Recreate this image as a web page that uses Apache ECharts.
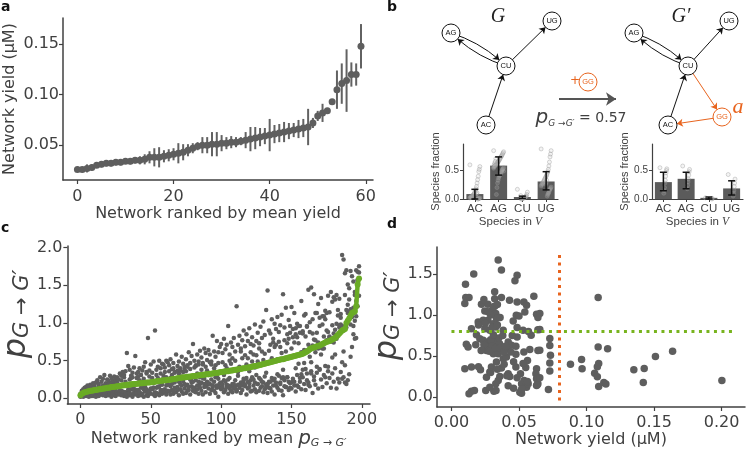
<!DOCTYPE html>
<html><head><meta charset="utf-8">
<script src="https://cdn.jsdelivr.net/npm/echarts@6/dist/echarts.min.js"></script>
<style>html,body{margin:0;padding:0;background:#fff}#c{width:750px;height:450px}</style>
</head><body><div id="c"></div>
<script>
// ---------- Panel a: network yield ranked ----------
const aYield = [0.026,0.026,0.027,0.028,0.030,0.031,0.032,0.032,0.033,0.033,0.034,0.034,0.035,0.035,0.036,
0.038,0.038,0.038,0.039,0.040,0.041,0.042,0.043,0.045,0.047,0.049,0.050,0.050,0.051,0.051,
0.052,0.052,0.053,0.053,0.054,0.055,0.056,0.057,0.058,0.059,0.060,0.061,0.062,0.063,0.064,
0.065,0.066,0.067,0.068,0.072,0.079,0.082,0.084,0.093,0.105,0.111,0.114,0.120,0.120,0.148];
const aErr = [0.002,0.002,0.004,0.003,0.002,0.003,0.003,0.003,0.003,0.003,
0.002,0.003,0.003,0.004,0.005,0.006,0.009,0.010,0.006,0.006,
0.006,0.010,0.008,0.006,0.005,0.004,0.008,0.008,0.012,0.012,
0.008,0.006,0.006,0.005,0.004,0.008,0.012,0.011,0.009,0.008,
0.016,0.009,0.009,0.010,0.008,0.007,0.009,0.009,0.018,0.005,
0.005,0.009,0.002,0.002,0.019,0.020,0.031,0.012,0.011,0.022];
const aXTicks = [0,20,40,60];
const aYTicks = [0.05,0.10,0.15];

// ---------- Panel c: p per network ----------
const cMean = [0.04,0.06,0.07,0.08,0.085,0.09,0.095,0.10,0.10,0.105,
0.11,0.11,0.115,0.12,0.12,0.125,0.13,0.13,0.135,0.14,
0.14,0.145,0.15,0.15,0.155,0.155,0.16,0.16,0.165,0.17,
0.17,0.175,0.175,0.18,0.18,0.185,0.185,0.19,0.19,0.19,
0.195,0.195,0.20,0.20,0.20,0.205,0.205,0.21,0.21,0.21,
0.215,0.215,0.22,0.22,0.225,0.225,0.23,0.23,0.235,0.235,
0.24,0.24,0.245,0.245,0.25,0.25,0.255,0.26,0.26,0.265,
0.27,0.27,0.275,0.275,0.28,0.28,0.285,0.285,0.29,0.29,
0.295,0.295,0.30,0.30,0.305,0.305,0.31,0.31,0.315,0.315,
0.32,0.32,0.325,0.325,0.33,0.335,0.335,0.34,0.34,0.345,
0.35,0.35,0.355,0.355,0.36,0.36,0.365,0.37,0.37,0.375,
0.38,0.38,0.385,0.39,0.39,0.395,0.40,0.40,0.405,0.41,
0.41,0.415,0.42,0.425,0.43,0.43,0.435,0.44,0.445,0.45,
0.455,0.46,0.465,0.47,0.475,0.48,0.485,0.49,0.495,0.50,
0.505,0.51,0.515,0.52,0.52,0.525,0.53,0.535,0.54,0.545,
0.55,0.555,0.56,0.565,0.57,0.575,0.58,0.585,0.59,0.60,
0.61,0.62,0.635,0.65,0.66,0.67,0.675,0.68,0.69,0.695,
0.70,0.71,0.72,0.73,0.74,0.75,0.755,0.76,0.77,0.78,
0.79,0.80,0.82,0.84,0.86,0.88,0.90,0.91,0.92,1.00,
1.03,1.06,1.10,1.13,1.14,1.15,1.22,1.51,1.59];
const cReplicates = [
[0.02,0.05,0.03,0.06],[0.03,0.10,0.04,0.07],[0.02,0.12,0.05,0.09],[0.04,0.14,0.06,0.08],[0.03,0.15,0.10,0.06],
[0.05,0.17,0.08,0.09],[0.02,0.13,0.16,0.07],[0.04,0.18,0.11,0.07],[0.06,0.15,0.03,0.16],[0.03,0.20,0.12,0.07],
[0.05,0.18,0.14,0.07],[0.02,0.21,0.10,0.11],[0.06,0.24,0.08,0.09],[0.03,0.19,0.16,0.14],[0.05,0.28,0.09,0.06],
[0.07,0.22,0.13,0.08],[0.04,0.26,0.17,0.10],[0.09,0.31,0.05,0.07],[0.03,0.20,0.18,0.13],[0.06,0.25,0.15,0.10],
[0.04,0.23,0.19,0.10],[0.08,0.30,0.05,0.15],[0.02,0.27,0.21,0.10],[0.06,0.24,0.12,0.18],[0.09,0.29,0.04,0.20],
[0.03,0.26,0.22,0.11],[0.07,0.21,0.28,0.08],[0.05,0.25,0.18,0.16],[0.10,0.33,0.06,0.17],[0.04,0.30,0.24,0.10],
[0.06,0.35,0.18,0.09],[0.03,0.28,0.31,0.08],[0.08,0.22,0.36,0.04],[0.05,0.60,0.02,0.05],[0.10,0.43,0.07,0.12],
[0.04,0.38,0.25,0.07],[0.12,0.30,0.05,0.27],[0.02,0.34,0.28,0.12],[0.07,0.41,0.16,0.12],[0.05,0.56,0.09,0.06],
[0.11,0.27,0.33,0.07],[0.03,0.35,0.29,0.11],[0.08,0.24,0.40,0.08],[0.14,0.31,0.04,0.31],[0.06,0.37,0.22,0.15],
[0.02,0.42,0.26,0.12],[0.09,0.48,0.10,0.15],[0.04,0.33,0.35,0.12],[0.05,0.80,0.03,0.08],[0.10,0.29,0.37,0.08],
[0.06,0.45,0.22,0.13],[0.13,0.34,0.27,0.12],[0.49,0.05,0.20,0.14],[0.90,0.03,0.05,0.08],[0.07,0.38,0.31,0.14],
[0.15,0.27,0.42,0.06],[0.04,0.50,0.24,0.16],[0.11,0.33,0.40,0.08],[0.18,0.46,0.06,0.25],[0.08,0.45,0.30,0.11],
[0.12,0.41,0.35,0.08],[0.05,0.50,0.28,0.17],[0.20,0.48,0.10,0.18],[0.09,0.36,0.44,0.09],[0.16,0.52,0.05,0.27],
[0.11,0.39,0.31,0.19],[0.06,0.47,0.40,0.09],[0.21,0.35,0.14,0.34],[0.08,0.58,0.25,0.13],[0.15,0.43,0.37,0.11],
[0.04,0.49,0.33,0.22],[0.19,0.40,0.12,0.37],[0.09,0.55,0.29,0.17],[0.23,0.46,0.06,0.35],[0.13,0.38,0.42,0.19],
[0.07,0.52,0.36,0.17],[0.18,0.44,0.10,0.42],[0.11,0.61,0.27,0.15],[0.05,0.47,0.39,0.25],[0.21,0.56,0.16,0.23],
[0.14,0.72,0.10,0.22],[0.09,0.50,0.41,0.14],[0.24,0.44,0.08,0.43],[0.12,0.58,0.33,0.17],[0.06,0.49,0.45,0.22],
[0.19,0.63,0.14,0.28],[0.10,0.54,0.38,0.21],[0.27,0.47,0.05,0.45],[0.15,0.66,0.26,0.19],[0.08,0.60,0.42,0.16],
[0.22,0.51,0.18,0.37],[0.13,0.64,0.31,0.20],[0.06,0.58,0.48,0.19],[0.25,0.49,0.11,0.45],[0.17,0.83,0.15,0.17],
[0.10,0.62,0.40,0.22],[0.28,0.55,0.07,0.44],[0.14,0.76,0.29,0.17],[0.02,0.61,0.47,0.26],[0.20,0.68,0.15,0.34],
[0.12,0.72,0.35,0.21],[0.18,0.60,0.48,0.14],[0.08,0.79,0.31,0.24],[0.22,0.65,0.11,0.44],[0.15,0.71,0.40,0.18],
[0.06,0.96,0.25,0.17],[0.27,0.58,0.13,0.50],[0.10,0.74,0.46,0.16],[0.19,0.68,0.08,0.53],[0.13,0.80,0.38,0.19],
[0.24,0.62,0.16,0.50],[0.09,1.22,0.11,0.10],[0.30,0.71,0.18,0.35],[0.14,0.83,0.42,0.17],[0.21,0.66,0.07,0.62],
[0.11,0.77,0.53,0.17],[0.26,0.90,0.20,0.24],[0.16,0.69,0.57,0.18],[0.05,0.85,0.45,0.27],[0.22,0.76,0.13,0.53],
[0.15,0.93,0.36,0.20],[0.09,0.72,0.61,0.24],[0.28,0.81,0.10,0.49],[0.17,0.70,0.58,0.25],[0.12,0.98,0.41,0.21],
[0.31,0.76,0.08,0.57],[0.19,0.87,0.49,0.19],[0.10,0.73,0.66,0.27],[0.25,0.95,0.14,0.44],[0.16,0.80,0.62,0.22],
[0.08,1.02,0.51,0.21],[0.29,0.84,0.12,0.59],[0.18,1.17,0.34,0.15],[0.07,1.43,0.19,0.19],[0.22,0.90,0.63,0.14],
[0.13,0.86,0.71,0.22],[0.27,1.05,0.09,0.53],[0.17,0.79,0.74,0.24],[0.05,0.99,0.68,0.26],[0.21,0.92,0.17,0.71],
[0.14,1.08,0.52,0.32],[0.30,0.88,0.11,0.75],[0.19,0.97,0.68,0.21],[0.10,1.11,0.60,0.27],[0.04,1.38,0.38,0.28],
[0.24,0.94,0.16,0.77],[0.15,1.20,0.62,0.15],[0.28,0.85,0.73,0.28],[0.11,1.04,0.79,0.22],[0.20,0.96,0.14,0.87],
[0.13,1.21,0.66,0.21],[0.26,0.92,0.81,0.23],[0.17,1.13,0.74,0.22],[0.09,0.85,0.93,0.40],[0.31,0.99,0.17,0.81],
[0.15,0.96,0.73,0.46],[0.22,0.87,0.96,0.27],[0.12,1.29,0.61,0.32],[0.28,0.86,0.38,0.89],[0.19,1.10,0.64,0.47],
[0.11,1.12,0.82,0.39],[0.33,0.95,0.24,0.96],[0.21,1.44,0.71,0.18],[0.16,0.88,1.01,0.55],[0.36,1.47,0.48,0.33],
[0.07,1.05,0.86,0.70],[0.29,0.78,0.24,1.38],[0.18,1.13,0.77,0.61],[0.34,0.87,0.42,1.13],[0.13,1.25,0.66,0.74],
[0.38,0.96,0.39,1.07],[0.25,1.33,0.67,0.58],[0.15,0.98,1.09,0.66],[0.31,0.82,0.66,1.09],[0.43,1.16,0.28,1.05],
[0.20,0.90,1.13,0.77],[0.36,1.36,0.42,0.88],[0.27,0.81,1.14,0.82],[0.14,1.41,0.75,0.78],[0.33,0.97,0.54,1.28],
[0.22,1.34,0.86,0.74],[0.40,0.91,0.58,1.31],[0.13,1.37,0.99,0.79],[0.26,1.10,1.17,0.83],[0.21,1.32,0.94,0.97],
[0.35,1.07,0.98,1.12],[0.48,1.90,0.26,0.96],[0.28,1.84,0.62,0.90],[0.44,1.66,0.21,1.37],[0.19,1.70,0.94,1.17],
[0.24,1.51,1.24,1.13],[0.32,1.46,1.31,1.15],[0.55,1.69,0.98,1.18],[0.68,1.62,1.08,1.14],[0.85,1.55,1.20,0.96],
[0.79,1.41,1.37,1.03],[0.80,1.70,1.29,1.09],[1.22,1.68,1.57,1.57],[1.36,1.75,1.58,1.67]];
const cXTicks = [0,50,100,150,200];
const cYTicks = [0,0.5,1.0,1.5,2.0];

// ---------- Panel d: yield vs p ----------
const dPoints = [[0.0346,1.671],[0.037,1.549],[0.0165,1.5],[0.0486,1.487],[0.047,1.418],[0.0104,1.377],[0.032,1.284],
[0.0106,1.214],[0.013,1.214],[0.0099,1.141],[0.032,1.20],[0.037,1.214],[0.043,1.18],[0.0486,1.161],[0.0536,1.161],
[0.061,1.23],[0.0222,1.133],[0.027,1.133],[0.032,1.108],[0.0247,1.051],[0.0296,1.051],[0.0328,1.019],[0.048,0.998],
[0.0543,1.039],[0.063,1.01],[0.064,0.97],[0.0198,0.917],[0.0235,0.937],[0.027,0.937],[0.0309,0.896],[0.0333,0.958],
[0.0148,0.835],[0.0185,0.762],[0.0247,0.835],[0.0284,0.815],[0.0328,0.856],[0.0383,0.815],[0.0457,0.929],[0.0486,0.848],
[0.053,0.815],[0.059,0.754],[0.064,0.823],[0.0486,0.733],[0.011,0.644],[0.0123,0.611],[0.021,0.713],[0.0235,0.693],
[0.0247,0.619],[0.027,0.672],[0.0284,0.611],[0.031,0.652],[0.0333,0.693],[0.0356,0.652],[0.037,0.591],[0.042,0.672],
[0.0444,0.632],[0.0477,0.619],[0.0259,0.570],[0.031,0.530],[0.0346,0.53],[0.0412,0.591],[0.0383,0.469],[0.0407,0.489],
[0.0477,0.522],[0.0536,0.55],[0.0563,0.448],[0.064,0.570],[0.0333,0.428],[0.0296,0.367],[0.0215,0.334],[0.0259,0.244],
[0.0284,0.306],[0.037,0.355],[0.0358,0.253],[0.042,0.285],[0.0432,0.253],[0.0346,0.204],[0.0099,0.346],[0.0148,0.367],
[0.0148,0.073],[0.013,0.041],[0.0254,0.081],[0.0314,0.073],[0.0328,0.163],[0.0284,0.122],[0.0486,0.236],[0.0511,0.285],
[0.0519,0.163],[0.0506,0.061],[0.0538,0.204],[0.0556,0.122],[0.0568,0.163],[0.063,0.346],[0.0625,0.285],[0.063,0.224],
[0.064,0.163],[0.063,0.143],[0.0477,0.367],[0.0519,0.049],
[0.026,0.66],[0.029,0.70],[0.030,0.62],[0.033,0.60],[0.028,0.56],[0.035,0.72],[0.024,0.64],[0.031,0.76],[0.036,0.60],
[0.022,0.57],[0.039,0.55],[0.030,0.85],[0.025,0.90],[0.034,0.88],[0.029,1.00],[0.031,1.10],[0.027,1.04],[0.034,1.13],
[0.020,0.88],[0.036,0.97],[0.018,0.64],[0.044,0.55],[0.040,0.62],[0.046,0.43],[0.039,0.40],[0.042,0.14],[0.046,0.11],
[0.033,0.08],[0.052,0.10],[0.055,0.36],[0.045,0.75],[0.057,0.80],[0.020,0.37],[0.029,0.30],[0.034,0.34],[0.041,0.26],
[0.053,0.41],[0.058,0.58],[0.050,0.99],[0.024,1.19],[0.038,0.75],[0.017,0.08],
[0.0728,0.714],[0.0728,0.63],[0.0733,0.51],[0.0728,0.416],[0.0728,0.318],[0.0718,0.094],[0.0654,1.02],[0.0654,0.824],
[0.0654,0.571],[0.0654,0.237],[0.0881,0.40],[0.0963,0.46],[0.0967,0.347],[0.1086,1.215],[0.1086,0.61],[0.1156,0.59],
[0.109,0.41],[0.108,0.37],[0.106,0.29],[0.108,0.25],[0.109,0.13],[0.1128,0.18],[0.1143,0.16],[0.135,0.335],[0.1427,0.35],
[0.142,0.18],[0.151,0.494],[0.1637,0.559],[0.2002,0.204],[0.0556,1.12],[0.0635,0.15],[0.0563,0.19]];
const dYieldThreshold = 0.08;
const dPThreshold = 0.8;
const dXTicks = [0,0.05,0.10,0.15,0.20];
const dYTicks = [0,0.5,1.0,1.5];

// ---------- Panel b: species fractions ----------
const species = ['AC','AG','CU','UG'];
const bBeforeMean = [0.087,0.587,0.035,0.308];
const bBeforeLow  = [0.00,0.42,0.01,0.16];
const bBeforeHigh = [0.17,0.74,0.05,0.48];
const bAfterMean = [0.297,0.355,0.02,0.186];
const bAfterLow  = [0.145,0.18,0.00,0.07];
const bAfterHigh = [0.47,0.47,0.035,0.32];
const bBeforeSamples = [
 [0.60,0.57,0.52,0.48,0.40,0.34,0.28,0.22,0.18,0.15,0.12,0.10,0.08,0.07,0.06,0.05,0.04,0.03,0.03,0.02,0.02,0.01,0.01,0.0,0.0,0.11,0.09,0.05],
 [0.85,0.83,0.81,0.79,0.77,0.75,0.74,0.72,0.70,0.68,0.67,0.65,0.64,0.62,0.61,0.60,0.59,0.58,0.57,0.56,0.55,0.53,0.52,0.50,0.48,0.46,0.44,0.42,0.40,0.37,0.33,0.28,0.20,0.08,0.71,0.66,0.63,0.60,0.54,0.49],
 [0.17,0.12,0.08,0.05,0.04,0.03,0.03,0.02,0.02,0.01,0.01,0.0,0.0,0.06],
 [0.88,0.85,0.79,0.74,0.65,0.58,0.52,0.48,0.45,0.42,0.40,0.38,0.36,0.34,0.32,0.30,0.28,0.27,0.25,0.23,0.21,0.19,0.17,0.15,0.12,0.10,0.08,0.05,0.33,0.29,0.26]];
const bAfterSamples = [
 [0.55,0.53,0.50,0.46,0.40,0.33,0.28,0.20,0.15,0.10],
 [0.58,0.52,0.48,0.42,0.35,0.30,0.24,0.18],
 [0.02,0.01,0.0],
 [0.43,0.35,0.28,0.22,0.15,0.10,0.05]];
const bYTicks = [0,0.5];

// network diagram layout (diagram units)
const netNodes = [
 {name:'AG',pos:[76,33]},{name:'UG',pos:[177,21]},{name:'CU',pos:[131,66]},{name:'AC',pos:[111,125]},
 {name:'AG',pos:[259,33]},{name:'UG',pos:[354,21]},{name:'CU',pos:[313,66]},{name:'AC',pos:[293,125]},
 {name:'GG',pos:[347,117],added:true},{name:'GG',pos:[213,82],added:true},
 {name:'',pos:[184,99],hidden:true},{name:'',pos:[241,99],hidden:true}];
const netLinks = [[0,2,'d'],[2,0,'d'],[2,1],[3,2],[4,6,'d'],[6,4,'d'],[6,5],[7,6],[6,8,'a'],[8,7,'a'],[10,11,'t']];

// ---------- styles ----------
const TXT = '#404040', AX = '#404040', GRAY = '#5e5e5e', GREEN = '#6aab25', ORANGE = '#e8641e';
const FF = 'DejaVu Sans', FB = 'Liberation Sans';
function valAxis(o) {
  return Object.assign({
    type:'value', scale:false,
    axisLine:{show:true,onZero:false,lineStyle:{color:AX,width:1.5}},
    axisTick:{show:true,length:4,lineStyle:{color:AX,width:1.2}},
    axisLabel:{color:TXT,fontSize:16,fontFamily:FF,margin:6},
    splitLine:{show:false},
    nameTextStyle:{color:TXT,fontSize:16,fontFamily:FF},
    nameLocation:'middle'
  }, o);
}
const tick = (vals) => ({show:true,length:4,customValues:vals,lineStyle:{color:AX,width:1.2}});
const lab = (vals, margin, f) => ({color:TXT,fontSize:16,fontFamily:FF,margin:margin,customValues:vals,formatter:f});
const fmt = d => v => v.toFixed(d);
const jit = (i, w) => ((((i * 37) % 19) / 18) - 0.5) * w;

const cScatter = [];
cReplicates.forEach((arr, i) => arr.forEach(v => cScatter.push([i, v])));

const chart = echarts.init(document.getElementById('c'), null, {renderer:'canvas'});
const pRich = (pSize, sSize, padLeft) => ({
  p:{fontSize:pSize,fontStyle:'italic',fontFamily:FF,color:TXT,verticalAlign:'bottom',padding:[0,0,0,padLeft||0]},
  s:{fontSize:sSize,fontStyle:'italic',fontFamily:FF,color:TXT,verticalAlign:'bottom'}
});
const bCat = (gi) => ({type:'category',gridIndex:gi,data:species,
  axisLine:{show:true,lineStyle:{color:AX,width:1.2}},
  axisTick:{show:true,alignWithLabel:true,length:3,lineStyle:{color:AX}},
  axisLabel:{color:TXT,fontSize:11.5,fontFamily:FB,margin:4},
  name:'Species in {v|V}',nameLocation:'middle',nameGap:16,
  nameTextStyle:{color:TXT,fontSize:11.5,fontFamily:FB,rich:{v:{fontStyle:'italic',fontSize:11.5,fontFamily:'Liberation Serif',color:TXT}}}});
const bVal = (gi) => valAxis({gridIndex:gi,min:0,max:0.967,name:'Species fraction',nameGap:22,
  nameTextStyle:{color:TXT,fontSize:11,fontFamily:FB},
  axisLine:{show:true,onZero:false,lineStyle:{color:AX,width:1.2}},
  axisTick:{show:true,length:3,customValues:bYTicks,lineStyle:{color:AX}},
  axisLabel:{color:TXT,fontSize:10,fontFamily:FB,margin:4,customValues:bYTicks,formatter:fmt(1)}});

const option = {
  animation:false,
  backgroundColor:'#fff',
  grid:[
    {left:63,top:18,width:310,height:162},
    {left:62,top:246,width:308,height:161},
    {left:437,top:247,width:308,height:160},
    {left:463,top:144,width:95,height:55},
    {left:652,top:144,width:91,height:55},
    {left:375,top:0,width:375,height:140}
  ],
  xAxis:[
    valAxis({gridIndex:0,min:-3,max:61.5,name:'Network ranked by mean yield',nameGap:26,
      axisTick:tick(aXTicks),axisLabel:lab(aXTicks,9)}),
    valAxis({gridIndex:1,min:-9.3,max:205.8,name:'Network ranked by mean {p|p}{s|G → G′}',nameGap:25,
      nameTextStyle:{color:TXT,fontSize:16,fontFamily:FF,rich:pRich(20,11)},
      axisTick:tick(cXTicks),axisLabel:lab(cXTicks,8)}),
    valAxis({gridIndex:2,min:-0.0107,max:0.2173,name:'Network yield (µM)',nameGap:25,
      axisTick:tick(dXTicks),axisLabel:lab(dXTicks,8,fmt(2))}),
    bCat(3), bCat(4),
    {type:'value',gridIndex:3,min:-0.5,max:3.5,show:false},
    {type:'value',gridIndex:4,min:-0.5,max:3.5,show:false},
    {type:'value',gridIndex:5,min:0,max:375,show:false}
  ],
  yAxis:[
    valAxis({gridIndex:0,min:0.0155,max:0.176,name:'Network yield (µM)',nameGap:45,
      axisTick:tick(aYTicks),axisLabel:lab(aYTicks,4,fmt(2))}),
    valAxis({gridIndex:1,min:-0.075,max:2.02,name:'{p|p}{s|G → G′}',nameGap:31,
      nameTextStyle:{color:TXT,fontFamily:FF,rich:pRich(32,21,22)},
      axisTick:tick(cYTicks),axisLabel:lab(cYTicks,5,fmt(1))}),
    valAxis({gridIndex:2,min:-0.12,max:1.83,name:'{p|p}{s|G → G′}',nameGap:31,
      nameTextStyle:{color:TXT,fontFamily:FF,rich:pRich(32,21,22)},
      axisTick:tick(dYTicks),axisLabel:lab(dYTicks,4,fmt(1))}),
    bVal(3), bVal(4),
    {type:'value',gridIndex:5,min:0,max:140,inverse:true,show:false}
  ],
  graphic:[
    {type:'text',left:1,top:0,style:{text:'a',font:'bold 14px "DejaVu Sans"',fill:'#111'}},
    {type:'text',left:387,top:0,style:{text:'b',font:'bold 14px "DejaVu Sans"',fill:'#111'}},
    {type:'text',left:1,top:221,style:{text:'c',font:'bold 14px "DejaVu Sans"',fill:'#111'}},
    {type:'text',left:387,top:217,style:{text:'d',font:'bold 14px "DejaVu Sans"',fill:'#111'}},
    {type:'text',x:498,y:17,style:{text:'G',font:'italic 20px "Liberation Serif"',fill:'#222',align:'center',verticalAlign:'middle'}},
    {type:'text',x:681,y:17,style:{text:'G′',font:'italic 20px "Liberation Serif"',fill:'#222',align:'center',verticalAlign:'middle'}},
    {type:'text',x:738,y:107,style:{text:'a',font:'italic 22px "Liberation Serif"',fill:ORANGE,align:'center',verticalAlign:'middle'}},
    {type:'text',x:575,y:81,style:{text:'+',font:'12px "DejaVu Sans"',fill:ORANGE,align:'center',verticalAlign:'middle'}},
    {type:'text',x:581,y:118,style:{text:'{p|p}{s|G →G′} = 0.57',fill:TXT,font:'14px "DejaVu Sans"',align:'center',verticalAlign:'middle',
      rich:{p:{fontSize:20,fontStyle:'italic',fontFamily:FF,fill:TXT,verticalAlign:'bottom'},s:{fontSize:9,fontStyle:'italic',fontFamily:FF,fill:TXT,verticalAlign:'bottom'}}}}
  ],
  series:[
    {type:'custom',xAxisIndex:0,yAxisIndex:0,z:2,
      data:aYield.map((v,i)=>[i,v-aErr[i],v+aErr[i]]),
      renderItem:(params,api)=>{
        const p1=api.coord([api.value(0),api.value(1)]), p2=api.coord([api.value(0),api.value(2)]);
        return {type:'line',shape:{x1:p1[0],y1:p1[1],x2:p2[0],y2:p2[1]},style:{stroke:'#626262',lineWidth:2}};
      }},
    {type:'scatter',xAxisIndex:0,yAxisIndex:0,z:3,symbolSize:7,itemStyle:{color:GRAY,opacity:1},
      data:aYield.map((v,i)=>[i,v])},
    {type:'scatter',xAxisIndex:1,yAxisIndex:1,symbolSize:4.5,itemStyle:{color:GRAY,opacity:1},data:cScatter},
    {type:'line',xAxisIndex:1,yAxisIndex:1,z:4,symbol:'circle',symbolSize:6,showSymbol:true,
      lineStyle:{color:GREEN,width:4.5},itemStyle:{color:GREEN},data:cMean.map((v,i)=>[i,v])},
    {type:'scatter',xAxisIndex:2,yAxisIndex:2,symbolSize:7.5,itemStyle:{color:GRAY,opacity:1},data:dPoints},
    {type:'line',xAxisIndex:2,yAxisIndex:2,symbol:'none',z:5,
      lineStyle:{color:'#78b41e',width:3,type:[3,4.5]},data:[[0,dPThreshold],[0.2086,dPThreshold]]},
    {type:'line',xAxisIndex:2,yAxisIndex:2,symbol:'none',z:5,
      lineStyle:{color:ORANGE,width:3,type:[3,4.5]},data:[[dYieldThreshold,-0.04],[dYieldThreshold,1.75]]},
    {type:'bar',xAxisIndex:3,yAxisIndex:3,barWidth:17,itemStyle:{color:'#5b5b5b'},data:bBeforeMean},
    {type:'bar',xAxisIndex:4,yAxisIndex:4,barWidth:17,itemStyle:{color:'#5b5b5b'},data:bAfterMean},
    {type:'scatter',xAxisIndex:5,yAxisIndex:3,symbolSize:4,z:3,
      itemStyle:{color:'rgba(200,200,200,0.25)',borderColor:'rgba(150,150,150,0.7)',borderWidth:0.7},
      data:bBeforeSamples.flatMap((arr,k)=>arr.map((v,i)=>[k+jit(i,0.42),v]))},
    {type:'scatter',xAxisIndex:6,yAxisIndex:4,symbolSize:4,z:3,
      itemStyle:{color:'rgba(200,200,200,0.25)',borderColor:'rgba(150,150,150,0.7)',borderWidth:0.7},
      data:bAfterSamples.flatMap((arr,k)=>arr.map((v,i)=>[k+jit(i,0.3),v]))},
    ...[[3,bBeforeLow,bBeforeHigh],[4,bAfterLow,bAfterHigh]].map(([ax,lo,hi])=>({
      type:'custom',xAxisIndex:ax,yAxisIndex:ax,z:5,
      data:species.map((s,i)=>[i,lo[i],hi[i]]),
      renderItem:(params,api)=>{
        const a=api.coord([api.value(0),api.value(1)]), b=api.coord([api.value(0),api.value(2)]);
        const st={stroke:'#111',lineWidth:1.5};
        return {type:'group',children:[
          {type:'line',shape:{x1:a[0],y1:a[1],x2:b[0],y2:b[1]},style:st},
          {type:'line',shape:{x1:a[0]-3.5,y1:a[1],x2:a[0]+3.5,y2:a[1]},style:st},
          {type:'line',shape:{x1:b[0]-3.5,y1:b[1],x2:b[0]+3.5,y2:b[1]},style:st}]};
      }})),
    {type:'graph',coordinateSystem:'cartesian2d',xAxisIndex:7,yAxisIndex:5,layout:'none',z:6,
      symbol:'circle',symbolSize:18,edgeSymbol:['none','arrow'],edgeSymbolSize:[0,6],
      data:netNodes.map((n,i)=>({id:'n'+i,name:'n'+i,value:n.pos,
        symbolSize:n.hidden?0:18,
        itemStyle:{color:'#fff',borderColor:n.added?ORANGE:'#111',borderWidth:1},
        label:{show:!n.hidden,position:'inside',formatter:n.name||' ',fontSize:7.5,fontFamily:FB,color:n.added?ORANGE:'#111'}})),
      links:netLinks.map(l=>({source:'n'+l[0],target:'n'+l[1],
        symbolSize:l[2]==='t'?[0,10]:[0,6],
        lineStyle:{color:l[2]==='a'?ORANGE:(l[2]==='t'?'#555':'#111'),width:l[2]==='t'?2:1,opacity:1,
          curveness:l[2]==='d'?0.12:0}})),
      emphasis:{disabled:true}}
  ]
};
chart.setOption(option);
</script></body></html>
